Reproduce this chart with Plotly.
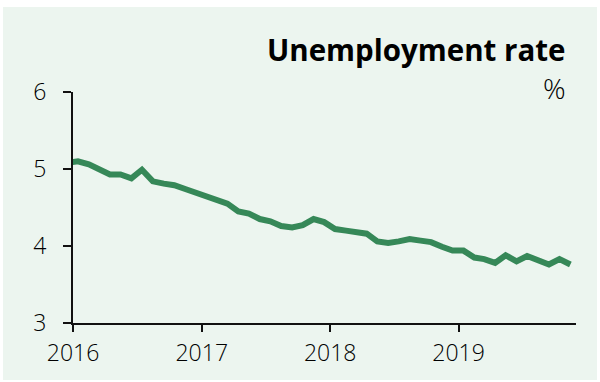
import plotly.graph_objects as go

# Monthly unemployment rate, plotted at mid-month (Dec 2015 – Nov 2019)
months = [
    "2015-12-15",
    "2016-01-15", "2016-02-15", "2016-03-15", "2016-04-15", "2016-05-15", "2016-06-15",
    "2016-07-15", "2016-08-15", "2016-09-15", "2016-10-15", "2016-11-15", "2016-12-15",
    "2017-01-15", "2017-02-15", "2017-03-15", "2017-04-15", "2017-05-15", "2017-06-15",
    "2017-07-15", "2017-08-15", "2017-09-15", "2017-10-15", "2017-11-15", "2017-12-15",
    "2018-01-15", "2018-02-15", "2018-03-15", "2018-04-15", "2018-05-15", "2018-06-15",
    "2018-07-15", "2018-08-15", "2018-09-15", "2018-10-15", "2018-11-15", "2018-12-15",
    "2019-01-15", "2019-02-15", "2019-03-15", "2019-04-15", "2019-05-15", "2019-06-15",
    "2019-07-15", "2019-08-15", "2019-09-15", "2019-10-15", "2019-11-15",
]
rate = [
    5.08,
    5.10, 5.06, 5.00, 4.93, 4.93, 4.88,
    4.99, 4.84, 4.81, 4.79, 4.74, 4.69,
    4.64, 4.58, 4.55, 4.45, 4.42, 4.35,
    4.32, 4.26, 4.24, 4.27, 4.35, 4.31,
    4.22, 4.20, 4.18, 4.16, 4.06, 4.04,
    4.06, 4.09, 4.07, 4.05, 3.99, 3.94,
    3.94, 3.85, 3.83, 3.78, 3.88, 3.80,
    3.87, 3.82, 3.76, 3.83, 3.76,
]

year_ticks = ["2016-01-01", "2017-01-01", "2018-01-01", "2019-01-01"]
year_labels = ["2016", "2017", "2018", "2019"]
y_ticks = [3, 4, 5, 6]

FONT = "Open Sans"
BG = "#ecf5ef"
LINE = "#368858"
INK = "#111111"

fig = go.Figure()
fig.add_trace(go.Scatter(
    x=months, y=rate, mode="lines",
    line=dict(color=LINE, width=6),
    hoverinfo="skip", showlegend=False,
))

L, R, T, B = 73, 24, 92, 59
W, H = 600, 382
pw = W - L - R
ph = H - T - B

tick_font = dict(size=23, family=FONT, color="#000000", weight=350)

fig.update_layout(
    width=W, height=H,
    margin=dict(l=L, r=R, t=T, b=B),
    paper_bgcolor="white",
    plot_bgcolor=BG,
    font=dict(family=FONT, color=INK, size=23),
    xaxis=dict(
        type="date",
        range=["2016-01-01", "2019-12-01"],
        tickmode="array", tickvals=year_ticks, ticktext=year_labels,
        showgrid=False, zeroline=False,
        showline=True, linecolor=INK, linewidth=2,
        ticks="outside", ticklen=7, tickwidth=2, tickcolor=INK,
        tickfont=tick_font, ticklabelstandoff=1,
    ),
    yaxis=dict(
        range=[3, 6],
        tickmode="array", tickvals=y_ticks,
        showgrid=False, zeroline=False,
        showline=True, linecolor=INK, linewidth=2,
        ticks="outside", ticklen=8, tickwidth=2, tickcolor=INK,
        tickfont=tick_font, ticklabelstandoff=12,
    ),
)

# light green panel behind the whole chart
fig.add_shape(
    type="rect", xref="paper", yref="paper", layer="below",
    x0=(3 - L) / pw, x1=(597 - L) / pw,
    y0=(H - B - 380) / ph, y1=(H - B - 7) / ph,
    fillcolor=BG, line=dict(width=0),
)

fig.add_annotation(
    xref="paper", yref="paper",
    x=(568 - L) / pw, y=(H - B - 50) / ph,
    xanchor="right", yanchor="middle",
    text="<b>Unemployment rate</b>", showarrow=False,
    font=dict(size=29.5, family=FONT, color="black"),
)
fig.add_annotation(
    xref="paper", yref="paper",
    x=(568 - L) / pw, y=(H - B - 88) / ph,
    xanchor="right", yanchor="middle",
    text="%", showarrow=False,
    font=dict(size=28, family=FONT, color="#000000", weight=350),
)

fig.write_html("out.html")
